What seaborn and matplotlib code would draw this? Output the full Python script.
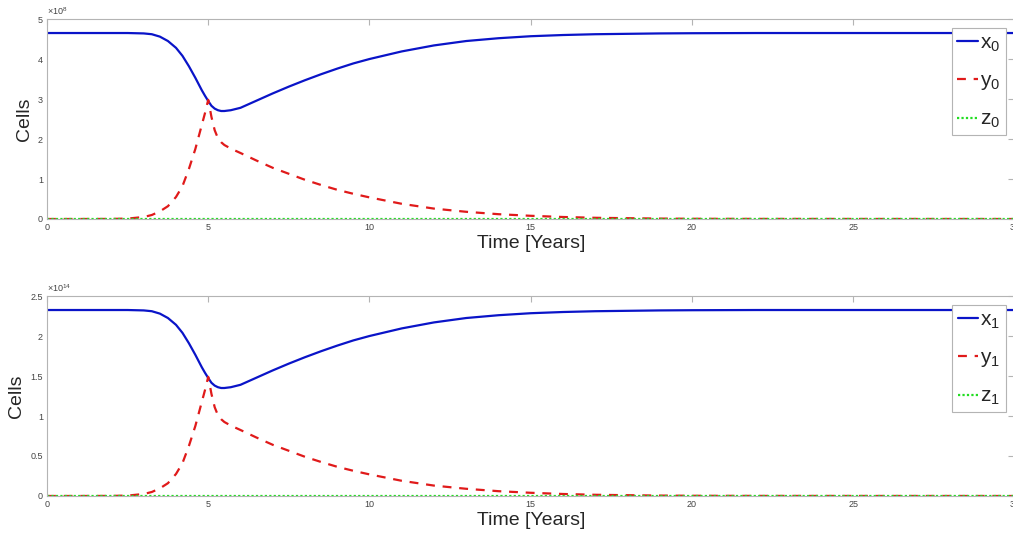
"""
Cells over time, two compartments (MATLAB-style figure)
"""
import numpy as np
import pandas as pd
import matplotlib
matplotlib.use('Agg')
import matplotlib.pyplot as plt
from matplotlib.ticker import FuncFormatter
import seaborn as sns

# time points (years)
t = [0, 1, 2, 2.5, 3, 3.25, 3.5, 3.75, 4, 4.2, 4.4, 4.6, 4.8, 4.9, 5.0,
     5.1, 5.2, 5.3, 5.4, 5.5, 5.7, 6, 6.5, 7, 7.5, 8, 8.5, 9, 9.5, 10,
     11, 12, 13, 14, 15, 16, 17, 18, 19, 20, 22, 25, 30]

# top panel, units of 1e8 cells
x0 = [4.65, 4.65, 4.65, 4.65, 4.64, 4.62, 4.56, 4.45, 4.28, 4.08, 3.82, 3.53,
      3.22, 3.08, 2.95, 2.83, 2.76, 2.72, 2.70, 2.70, 2.72, 2.78, 2.96, 3.14,
      3.31, 3.47, 3.62, 3.76, 3.89, 4.00, 4.19, 4.34, 4.45, 4.52, 4.57, 4.60,
      4.62, 4.63, 4.64, 4.645, 4.65, 4.65, 4.65]
y0 = [0, 0, 0.002, 0.01, 0.05, 0.10, 0.19, 0.32, 0.55, 0.82, 1.25, 1.75,
      2.35, 2.65, 2.98, 2.55, 2.22, 2.02, 1.92, 1.85, 1.76, 1.65, 1.46, 1.28,
      1.13, 0.98, 0.85, 0.73, 0.63, 0.54, 0.38, 0.26, 0.18, 0.12, 0.08, 0.05,
      0.03, 0.02, 0.01, 0.005, 0.002, 0.001, 0]
z0 = [0] * 43

# bottom panel, units of 1e14 cells
x1 = [2.325, 2.325, 2.325, 2.325, 2.32, 2.31, 2.28, 2.225, 2.14, 2.04, 1.91,
      1.765, 1.61, 1.54, 1.475, 1.415, 1.38, 1.36, 1.35, 1.35, 1.36, 1.39,
      1.48, 1.57, 1.655, 1.735, 1.81, 1.88, 1.945, 2.00, 2.095, 2.17, 2.225,
      2.26, 2.285, 2.30, 2.31, 2.315, 2.32, 2.3225, 2.325, 2.325, 2.325]
y1 = [0, 0, 0.001, 0.005, 0.025, 0.05, 0.095, 0.16, 0.275, 0.41, 0.625, 0.875,
      1.175, 1.325, 1.49, 1.275, 1.11, 1.01, 0.96, 0.925, 0.88, 0.825, 0.73,
      0.64, 0.565, 0.49, 0.425, 0.365, 0.315, 0.27, 0.19, 0.13, 0.09, 0.06,
      0.04, 0.025, 0.015, 0.01, 0.005, 0.0025, 0.001, 0.0005, 0]
z1 = [0] * 43

sns.set_style('white')
plt.rcParams['font.family'] = ['Liberation Sans', 'DejaVu Sans']
plt.rcParams['mathtext.fontset'] = 'custom'
plt.rcParams['mathtext.rm'] = 'Liberation Sans'

BLUE = '#0a14c8'
RED = '#e01a1a'
GREEN = '#22dd22'
EDGE = '#b4b4b4'

fig = plt.figure(figsize=(10.13, 5.39), dpi=100)
ax_top = fig.add_axes([0.0464, 0.5937, 0.955, 0.371])
ax_bot = fig.add_axes([0.0464, 0.0798, 0.955, 0.371])


def draw(ax, xs, ys, zs, scale, ymax, ystep, idx, exp, label_x):
    df = pd.DataFrame({'t': t, 'x': np.array(xs) * scale,
                       'y': np.array(ys) * scale, 'z': np.array(zs) * scale})
    sns.lineplot(data=df, x='t', y='x', ax=ax, color=BLUE, lw=1.6,
                 label=f'$\\mathregular{{x_{idx}}}$')
    sns.lineplot(data=df, x='t', y='y', ax=ax, color=RED, lw=1.6,
                 dashes=(4, 3.5), label=f'$\\mathregular{{y_{idx}}}$')
    sns.lineplot(data=df, x='t', y='z', ax=ax, color=GREEN, lw=1.6,
                 dashes=(1, 1), label=f'$\\mathregular{{z_{idx}}}$')
    ax.set_xlim(0, 30)
    ax.set_ylim(0, ymax * scale)
    ax.set_xticks(range(0, 31, 5))
    ax.set_yticks(np.arange(0, ymax + 1e-9, ystep) * scale)
    ax.yaxis.set_major_formatter(FuncFormatter(lambda v, p: f'{v / scale:g}'))
    ax.tick_params(direction='in', length=4, width=0.8, color=EDGE,
                   labelsize=6.5, labelcolor='#444444', top=True, right=True,
                   pad=3)
    for sp in ax.spines.values():
        sp.set_color(EDGE)
        sp.set_linewidth(0.8)
    ax.set_xlabel('Time [Years]', fontsize=14, labelpad=2)
    ax.set_ylabel('Cells', fontsize=14)
    ax.yaxis.set_label_coords(label_x, 0.5)
    ax.text(0.0, 1.01, f'$\\times\\mathregular{{10^{{{exp}}}}}$',
            transform=ax.transAxes, fontsize=6.5, color='#444444',
            ha='left', va='bottom')
    leg = ax.legend(loc='upper right', bbox_to_anchor=(0.991, 0.955),
                    borderaxespad=0, fontsize=15, handlelength=1.0,
                    handletextpad=0.1, labelspacing=0.85, borderpad=0.25,
                    fancybox=False, framealpha=1, edgecolor=EDGE)
    leg.get_frame().set_linewidth(0.8)


draw(ax_top, x0, y0, z0, 1e8, 5, 1, 0, 8, -0.0145)
draw(ax_bot, x1, y1, z1, 1e14, 2.5, 0.5, 1, 14, -0.0225)

fig.savefig('out.png', dpi=100)
